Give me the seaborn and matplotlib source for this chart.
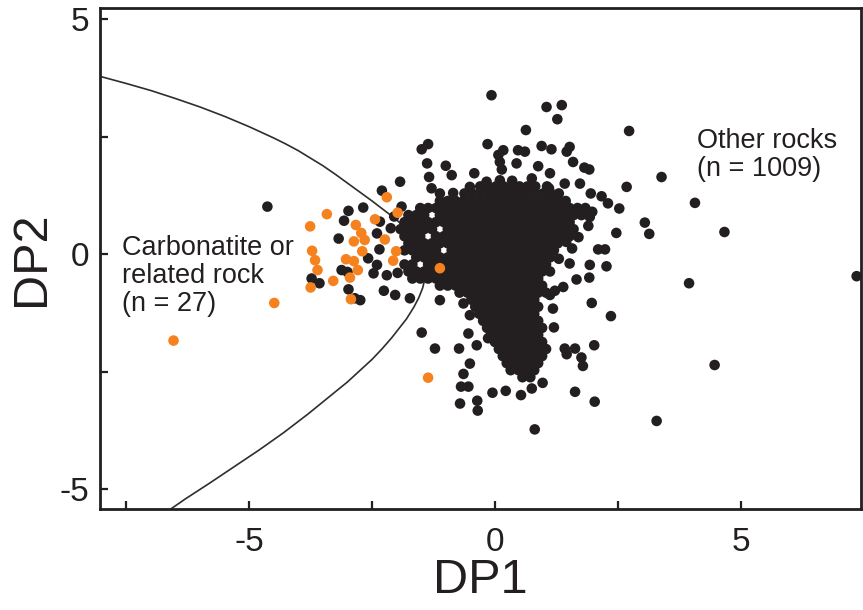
import matplotlib
matplotlib.use("Agg")
import matplotlib.pyplot as plt
import pandas as pd
import seaborn as sns

# ---------------- data ----------------
# dense core of "Other rocks": one list of DP1 values per DP2 row
core_y = [1.44, 1.29, 1.13, 0.98, 0.83, 0.68, 0.53, 0.38, 0.23, 0.08, -0.07, -0.22, -0.37, -0.52,
          -0.67, -0.82, -0.97, -1.12, -1.27, -1.42, -1.57, -1.72, -1.87, -2.02, -2.17, -2.32, -2.47, -2.62]
core_x = [
    [-0.30, -0.14, 0.02, 0.18, 0.50, 0.66, 0.82, 1.06],
    [-0.62, -0.46, -0.30, -0.14, 0.02, 0.18, 0.34, 0.50, 0.66, 0.82, 0.98, 1.14, 1.30],
    [-1.12, -0.96, -0.80, -0.64, -0.48, -0.32, -0.16, 0.0, 0.16, 0.32, 0.48, 0.64, 0.80, 0.96, 1.12, 1.28, 1.44],
    [-1.52, -1.36, -1.20, -1.04, -0.88, -0.72, -0.56, -0.40, -0.24, -0.08, 0.08, 0.24, 0.40, 0.56, 0.72, 0.88, 1.04, 1.20, 1.36, 1.52, 1.68, 1.84],
    [-1.76, -1.60, -1.44, -1.12, -0.96, -0.80, -0.64, -0.48, -0.32, -0.16, 0.0, 0.16, 0.32, 0.48, 0.64, 0.80, 0.96, 1.12, 1.28, 1.44, 1.60, 1.76],
    [-1.84, -1.68, -1.52, -1.36, -1.20, -1.04, -0.88, -0.72, -0.56, -0.40, -0.24, -0.08, 0.08, 0.24, 0.40, 0.56, 0.72, 0.88, 1.04, 1.20, 1.36, 1.52],
    [-1.92, -1.76, -1.60, -1.44, -1.28, -0.96, -0.80, -0.64, -0.48, -0.32, -0.16, 0.0, 0.16, 0.32, 0.48, 0.64, 0.80, 0.96, 1.12, 1.28, 1.44, 1.60],
    [-1.84, -1.68, -1.52, -1.20, -1.04, -0.88, -0.72, -0.56, -0.40, -0.24, -0.08, 0.08, 0.24, 0.40, 0.56, 0.72, 0.88, 1.04, 1.20, 1.36, 1.52],
    [-1.76, -1.60, -1.44, -1.28, -1.12, -0.96, -0.80, -0.64, -0.48, -0.32, -0.16, 0.0, 0.16, 0.32, 0.48, 0.64, 0.80, 0.96, 1.12, 1.28],
    [-1.84, -1.68, -1.52, -1.36, -1.20, -0.88, -0.72, -0.56, -0.40, -0.24, -0.08, 0.08, 0.24, 0.40, 0.56, 0.72, 0.88, 1.04, 1.20],
    [-1.60, -1.44, -1.28, -1.12, -0.96, -0.80, -0.64, -0.48, -0.32, -0.16, 0.0, 0.16, 0.32, 0.48, 0.64, 0.80, 0.96, 1.12],
    [-1.84, -1.68, -1.36, -1.20, -1.04, -0.88, -0.72, -0.56, -0.40, -0.24, -0.08, 0.08, 0.24, 0.40, 0.56, 0.72, 0.88, 1.04],
    [-1.76, -1.60, -1.44, -1.28, -1.12, -0.96, -0.80, -0.64, -0.48, -0.32, -0.16, 0.0, 0.16, 0.32, 0.48, 0.64, 0.80, 0.96, 1.12],
    [-1.68, -1.52, -1.36, -1.20, -1.04, -0.88, -0.72, -0.56, -0.40, -0.24, -0.08, 0.08, 0.24, 0.40, 0.56, 0.72, 0.88],
    [-1.12, -0.96, -0.80, -0.64, -0.48, -0.32, -0.16, 0.0, 0.16, 0.32, 0.48, 0.64, 0.80, 0.96],
    [-0.72, -0.56, -0.40, -0.24, -0.08, 0.08, 0.24, 0.40, 0.56, 0.72, 0.88, 1.04],
    [-0.48, -0.32, -0.16, 0.0, 0.16, 0.32, 0.48, 0.64, 0.80],
    [-0.40, -0.24, -0.08, 0.08, 0.24, 0.40, 0.56, 0.72, 0.88],
    [-0.32, -0.16, 0.0, 0.16, 0.32, 0.48, 0.64, 0.80],
    [-0.24, -0.08, 0.08, 0.24, 0.40, 0.56, 0.72, 0.88],
    [-0.16, 0.0, 0.16, 0.32, 0.48, 0.64, 0.80, 0.96],
    [-0.08, 0.08, 0.24, 0.40, 0.56, 0.72, 0.88],
    [0.0, 0.16, 0.32, 0.48, 0.64, 0.80, 0.96],
    [0.08, 0.24, 0.40, 0.56, 0.72, 0.88, 1.04],
    [0.16, 0.32, 0.48, 0.64, 0.80, 0.96],
    [0.24, 0.40, 0.56, 0.72, 0.88],
    [0.32, 0.48, 0.64, 0.80],
    [0.56, 0.72],
]

# scattered "Other rocks" points around the core
other_x = [-0.07, 1.05, 1.36, 1.27, 0.63, 2.73, -1.36, -1.49, -0.15, 0.95, 1.15, 1.52, 1.46, 0.17, 0.07,
           0.47, 0.61, -1.38, -1.00, -0.88, -1.34, 1.59, 1.82, 1.92, 0.88, -0.42, -1.93, -0.17, -2.30, -1.29,
           -1.12, -0.85, 1.73, -1.90, -2.68, -2.98, -3.07, -3.18, -4.63, 3.39, 2.68, 4.07, 1.95, 2.17, 2.30,
           2.53, 3.05, 3.14, 2.47, 1.90, 1.93, 4.67, 2.10, 2.24, 1.57, 1.93, 2.27, 1.92, 1.52, 1.66,
           1.39, 1.12, 1.97, 2.36, 1.18, 1.20, 2.02, 1.42, 1.63, 1.46, 1.76, 1.79, 3.95, 7.36, 4.47,
           3.29, 1.63, 2.03, 0.81, -1.12, -1.73, -1.49, -1.22, -0.73, -0.37, -0.54, -0.51, -0.64, -0.69,
           -0.54, -0.71, -0.36, -0.35, -0.05, 0.22, 0.53, 0.75, 0.97, -0.14, -0.64, -0.51, -2.26, -2.03,
           -2.74, -2.40, -2.34, -2.58, -2.40, -2.98, -2.85, -3.12, -3.00, -3.73, -3.57, -2.47, 0.10, 0.44,
           0.14, 1.12, -0.51, 0.10, 0.75, 1.42, -2.35, -2.20, -2.12, 1.98, 1.70, 1.45, 1.30, -2.05, -1.98,
           -0.58, 0.34, 1.10, 0.35, 1.22]
other_y = [3.38, 3.13, 3.17, 2.87, 2.64, 2.62, 2.34, 2.23, 2.34, 2.30, 2.23, 2.28, 2.18, 2.21, 2.11,
           2.21, 2.18, 1.93, 1.88, 1.68, 1.64, 1.96, 1.84, 1.80, 1.87, 1.72, 1.54, 1.54, 1.35, 1.40,
           1.29, 1.30, 1.50, 1.01, 0.99, 0.92, 0.71, 0.33, 1.01, 1.64, 1.43, 1.09, 1.29, 1.23, 1.08,
           0.97, 0.67, 0.43, 0.45, 0.60, 0.79, 0.47, 0.10, 0.10, 0.12, -0.23, -0.26, -0.50, -0.20, -0.54,
           -0.70, -0.87, -1.04, -1.32, -1.16, -1.56, -1.94, -2.01, -2.01, -2.13, -2.20, -2.38, -0.62, -0.47, -2.36,
           -3.55, -2.93, -3.14, -3.73, -0.98, -0.94, -1.67, -2.01, -2.01, -1.94, -1.69, -2.33, -2.55, -2.82,
           -2.82, -3.18, -3.12, -3.33, -2.95, -2.91, -3.00, -2.86, -2.74, -1.79, -1.05, -1.30, -0.78, -0.87,
           -0.98, 0.44, 0.69, -0.09, -0.23, -0.75, -0.94, -0.34, -0.38, -0.52, -0.62, -0.41, 1.96, 1.93,
           1.80, 1.72, 1.43, 1.57, 1.61, 1.50, 0.10, -0.45, 0.55, 0.90, 0.36, 0.26, -0.10, 0.80, -0.40,
           -0.62, 1.42, 1.40, 1.56, -0.78]

# carbonatite or related rock (n = 27)
carb_x = [-2.20, -3.42, -3.76, -2.44, -1.98, -2.83, -2.72, -2.87, -2.24, -3.72, -3.66, -3.61, -3.03, -2.87,
          -2.70, -2.79, -2.95, -3.29, -3.75, -2.93, -2.07, -2.01, -1.12, -4.49, -1.36, -6.54, -2.65]
carb_y = [1.21, 0.85, 0.59, 0.74, 0.88, 0.62, 0.45, 0.27, 0.31, 0.07, -0.13, -0.34, -0.11, -0.15,
          0.06, -0.34, -0.50, -0.57, -0.71, -0.96, -0.14, 0.06, -0.30, -1.04, -2.63, -1.84, 0.30]

# discriminant boundary
curve_x = [-8.10, -7.50, -7.00, -6.50, -6.00, -5.50, -5.00, -4.50, -4.25, -4.00, -3.75, -3.50, -3.25,
           -3.00, -2.75, -2.50, -2.25, -2.00, -1.80, -1.65, -1.53, -1.45, -1.41, -1.42, -1.47, -1.55,
           -1.65, -1.80, -1.95, -2.10, -2.30, -2.50, -2.75, -3.00, -3.40, -3.80, -4.30, -4.80, -5.30,
           -5.80, -6.30, -6.70]
curve_y = [3.80, 3.63, 3.48, 3.31, 3.13, 2.93, 2.71, 2.47, 2.34, 2.20, 2.04, 1.88, 1.70,
           1.51, 1.32, 1.13, 0.93, 0.73, 0.52, 0.32, 0.10, -0.10, -0.30, -0.50, -0.72, -0.93,
           -1.13, -1.38, -1.58, -1.78, -2.02, -2.24, -2.48, -2.72, -3.06, -3.40, -3.80, -4.17, -4.52,
           -4.87, -5.21, -5.50]

x_ticks = [-7.5, -5, -2.5, 0, 2.5, 5]
x_tick_labels = ["", "-5", "", "0", "", "5"]
y_ticks = [-5, -2.5, 0, 2.5, 5]
y_tick_labels = ["-5", "", "0", "", "5"]

# ---------------- table ----------------
rows = []
for yv, xs in zip(core_y, core_x):
    for xv in xs:
        rows.append((xv, yv, "Other rocks"))
for xv, yv in zip(other_x, other_y):
    rows.append((xv, yv, "Other rocks"))
for xv, yv in zip(carb_x, carb_y):
    rows.append((xv, yv, "Carbonatite"))
df = pd.DataFrame(rows, columns=["DP1", "DP2", "group"])

# ---------------- style ----------------
sns.set_theme(style="white")
plt.rcParams["font.family"] = ["Liberation Sans", "DejaVu Sans"]
plt.rcParams["axes.unicode_minus"] = False

INK = "#231f20"
ORANGE = "#f5821f"

fig = plt.figure(figsize=(8.63, 6.10), dpi=100)
ax = fig.add_axes([0.1162, 0.1651, 0.8810, 0.8213])

sns.lineplot(x=curve_x, y=curve_y, sort=False, estimator=None, color="#2e2e2e",
             linewidth=1.2, ax=ax, zorder=1)
sns.scatterplot(data=df, x="DP1", y="DP2", hue="group",
                palette={"Other rocks": INK, "Carbonatite": ORANGE},
                s=58, linewidth=0, edgecolor="none", legend=False, ax=ax, zorder=2)

ax.set_xlim(-8.03, 7.44)
ax.set_ylim(-5.43, 5.23)
ax.set_xticks(x_ticks)
ax.set_xticklabels(x_tick_labels)
ax.set_yticks(y_ticks)
ax.set_yticklabels(y_tick_labels)

for sp in ax.spines.values():
    sp.set_visible(True)
    sp.set_linewidth(2.0)
    sp.set_color(INK)

ax.tick_params(direction="in", length=6, width=1.6, color=INK, labelcolor=INK,
               labelsize=24, top=False, right=False, bottom=True, left=True)
ax.tick_params(axis="x", pad=13)
ax.tick_params(axis="y", pad=8)

ax.set_xlabel("DP1", fontsize=35, color=INK, labelpad=0)
ax.set_ylabel("DP2", fontsize=35, color=INK, labelpad=4)

ax.text(4.11, 2.10, "Other rocks\n(n = 1009)", fontsize=19.5, color=INK,
        ha="left", va="center", linespacing=1.1)
ax.text(-7.58, -0.47, "Carbonatite or\nrelated rock\n(n = 27)", fontsize=19.5, color=INK,
        ha="left", va="center", linespacing=1.1)

fig.savefig("out.png", dpi=100)
